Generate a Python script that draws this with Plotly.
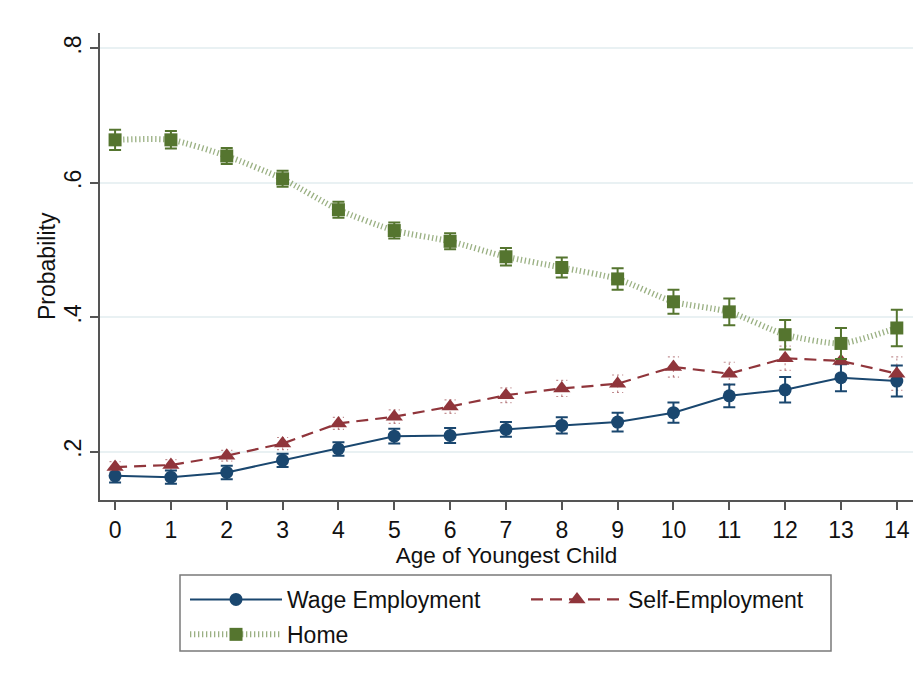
import plotly.graph_objects as go

# Predicted probabilities by age of youngest child
ages = list(range(15))

wage = [0.164, 0.162, 0.169, 0.187, 0.204, 0.223, 0.224, 0.233, 0.239, 0.244,
        0.258, 0.283, 0.292, 0.310, 0.305]
wage_ci = [0.010, 0.010, 0.010, 0.010, 0.010, 0.011, 0.011, 0.011, 0.012, 0.014,
           0.015, 0.017, 0.019, 0.020, 0.023]

self_emp = [0.177, 0.180, 0.194, 0.212, 0.242, 0.252, 0.267, 0.284, 0.294, 0.301,
            0.326, 0.316, 0.339, 0.335, 0.316]
self_ci = [0.008, 0.008, 0.008, 0.009, 0.009, 0.010, 0.010, 0.011, 0.012, 0.013,
           0.015, 0.017, 0.018, 0.020, 0.025]

home = [0.664, 0.664, 0.640, 0.606, 0.560, 0.529, 0.513, 0.490, 0.474, 0.457,
        0.423, 0.408, 0.374, 0.361, 0.384]
home_ci = [0.015, 0.013, 0.012, 0.012, 0.012, 0.012, 0.012, 0.013, 0.015, 0.016,
           0.018, 0.020, 0.022, 0.023, 0.027]

y_ticks = [0.2, 0.4, 0.6, 0.8]
y_tick_labels = [".2", ".4", ".6", ".8"]

NAVY = "#1a476f"
MAROON = "#90353b"
GREEN = "#55752f"
GREEN_LINE = "rgba(120,150,90,0.75)"
FONT = "Liberation Sans, Arial, Helvetica, sans-serif"

fig = go.Figure()

# Dashed confidence whiskers for self-employment (drawn as line segments)
seg_x, seg_y = [], []
cap_x, cap_y = [], []
for a, v, e in zip(ages, self_emp, self_ci):
    seg_x += [a, a, None]
    seg_y += [v - e, v + e, None]
    for end in (v - e, v + e):
        cap_x += [a - 0.1, a + 0.1, None]
        cap_y += [end, end, None]
fig.add_trace(go.Scatter(x=seg_x, y=seg_y, mode="lines", showlegend=False,
                         hoverinfo="skip",
                         line=dict(color="rgba(144,53,59,0.55)", width=1.2, dash="2px,3px")))
fig.add_trace(go.Scatter(x=cap_x, y=cap_y, mode="lines", showlegend=False,
                         hoverinfo="skip",
                         line=dict(color="rgba(144,53,59,0.55)", width=1.2, dash="2px,3px")))

fig.add_trace(go.Scatter(
    x=ages, y=wage, mode="lines+markers", name="Wage Employment",
    legend="legend", legendgroup="wage",
    line=dict(color=NAVY, width=2),
    marker=dict(symbol="circle", size=13, color=NAVY),
    error_y=dict(type="data", array=wage_ci, color=NAVY, thickness=2, width=6),
))

fig.add_trace(go.Scatter(
    x=ages, y=self_emp, mode="lines+markers", name="Self-Employment",
    legend="legend2", legendgroup="self",
    line=dict(color=MAROON, width=2.2, dash="12px,7px"),
    marker=dict(symbol="triangle-up", size=15, color=MAROON),
))

fig.add_trace(go.Scatter(
    x=ages, y=home, mode="lines+markers", name="Home",
    legend="legend", legendgroup="home",
    line=dict(color=GREEN_LINE, width=6, dash="1.3px,2.7px", shape="spline", smoothing=0.6),
    marker=dict(symbol="square", size=13, color=GREEN),
    error_y=dict(type="data", array=home_ci, color=GREEN, thickness=2, width=6),
))

# Legend frame
fig.add_shape(type="rect", xref="paper", yref="paper",
              x0=(180 - 100) / 813, x1=(831 - 100) / 813,
              y0=(500 - 651) / 467, y1=(500 - 575) / 467,
              line=dict(color="#7a7a7a", width=1.5), fillcolor="rgba(0,0,0,0)")

# Y-axis title placed as a rotated annotation
fig.add_annotation(text="Probability", xref="paper", yref="paper",
                   x=(47 - 100) / 813, y=(500 - 266) / 467,
                   xanchor="center", yanchor="middle", textangle=-90,
                   showarrow=False, font=dict(family=FONT, size=23, color="#111"))

legend_common = dict(
    orientation="v", yanchor="top", xanchor="left",
    itemwidth=92, font=dict(family=FONT, size=23, color="#111"),
    bgcolor="rgba(0,0,0,0)", borderwidth=0,
    traceorder="grouped", tracegroupgap=2,
)

fig.update_layout(
    width=922, height=677,
    margin=dict(l=100, r=9, t=33, b=177),
    paper_bgcolor="white", plot_bgcolor="white",
    font=dict(family=FONT, size=22, color="#111"),
    showlegend=True,
    legend=dict(x=(185 - 100) / 813, y=(500 - 578) / 467, **legend_common),
    legend2=dict(x=(526 - 100) / 813, y=(500 - 578) / 467, **legend_common),
    xaxis=dict(
        range=[-0.27, 14.29], tickmode="array", tickvals=ages,
        ticktext=[str(a) for a in ages],
        showline=True, linecolor="#555", linewidth=1.5,
        ticks="outside", ticklen=8, tickwidth=1.5, tickcolor="#555",
        showgrid=False, zeroline=False,
        tickfont=dict(size=23), ticklabelstandoff=1,
        title=dict(text="Age of Youngest Child", font=dict(size=22.5), standoff=0),
    ),
    yaxis=dict(
        range=[0.128, 0.823], tickmode="array", tickvals=y_ticks,
        ticktext=y_tick_labels, tickangle=-90,
        showline=True, linecolor="#555", linewidth=1.5,
        ticks="outside", ticklen=8, tickwidth=1.5, tickcolor="#555",
        showgrid=True, gridcolor="#e9f1f3", gridwidth=1.5, zeroline=False,
        tickfont=dict(size=23),
    ),
)

fig.write_html("out.html")
